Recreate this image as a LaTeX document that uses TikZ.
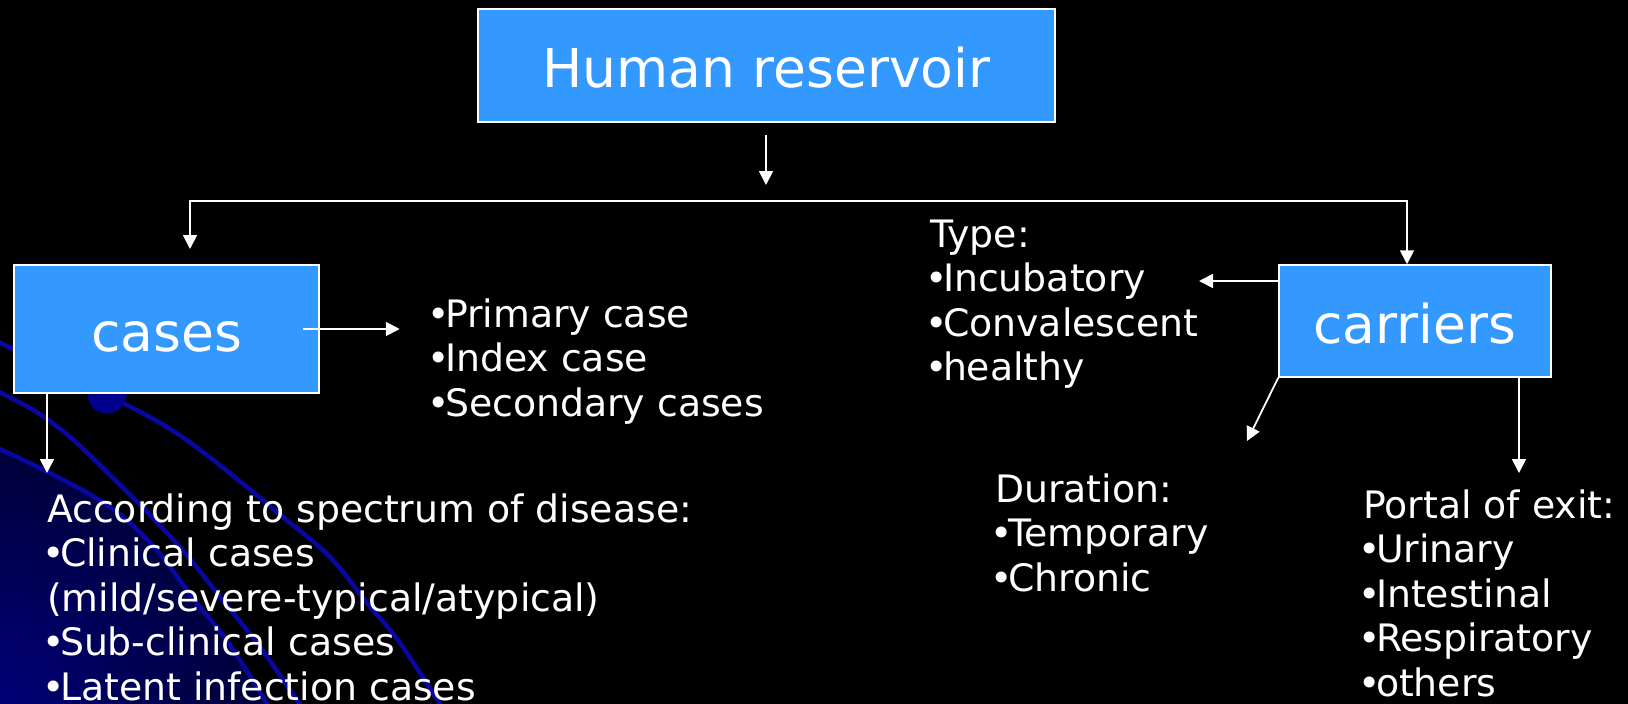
\documentclass[tikz,border=0pt]{standalone}
\usepackage{fontspec}
\setmainfont{DejaVu Sans}
\usetikzlibrary{arrows.meta}
\definecolor{boxblue}{RGB}{51,153,255}
\definecolor{arcblue}{RGB}{8,8,160}
\definecolor{dotblue}{RGB}{0,0,140}
\definecolor{cornerblue}{RGB}{0,0,118}
\newcommand{\stk}[1]{\begin{tabular}[t]{@{}l@{}}#1\end{tabular}}
\newcommand{\bul}{\kern-5pt•\kern-4.5pt}
\begin{document}
\begin{tikzpicture}[x=1pt,y=-1pt,
  box/.style={draw=white, line width=1.5pt, fill=boxblue, text=white,
    font=\fontsize{53.5}{62}\selectfont, inner sep=0pt, text height=44pt, text depth=0pt},
  conn/.style={draw=white, line width=1.8pt, -{Triangle[length=14pt,width=14pt]}},
  txt/.style={text=white, font=\fontsize{37.8}{44.5}\selectfont, anchor=base west, inner sep=0pt},
  deco/.style={draw=arcblue, line width=4.5pt}
]
\useasboundingbox (0,0) rectangle (1628,704);
% background
\fill[black] (0,0) rectangle (1628,704);
\begin{scope}
  \clip (0,0) rectangle (1628,704);
  \begin{scope}
    \clip plot[smooth, tension=0.6] coordinates {(-5,447) (50,473) (110,507) (155,548) (192,597) (230,645) (272,712)} -- (-5,712) -- cycle;
    \shade[inner color=cornerblue, outer color=black] (0,704) circle (500);
  \end{scope}
  \draw[deco] plot[smooth, tension=0.6] coordinates {(-5,340) (50,368) (107,395) (167,427) (217,463) (283,517) (330,557) (367,603) (400,643) (445,712)};
  \draw[deco] plot[smooth, tension=0.6] coordinates {(-5,390) (35,411) (70,437) (110,475) (148,513) (185,553) (220,597) (260,647) (305,712)};
  \draw[deco] plot[smooth, tension=0.6] coordinates {(-5,447) (50,473) (110,507) (155,548) (192,597) (230,645) (272,712)};
  \fill[dotblue] (107,394) circle (19.5);
\end{scope}

% boxes
\node[box, minimum width=577pt, minimum height=113pt] (hr) at (766.5,65.5) {Human reservoir};
\node[box, minimum width=305pt, minimum height=128pt] (cases) at (166.5,329) {cases};
\node[box, minimum width=272pt, minimum height=112pt] (carr) at (1415,321) {carriers};

% text blocks
\node[txt] (caselist) at (432,327) {\stk{\bul Primary case\\\bul Index case\\\bul Secondary cases}};
\node[txt] (spec) at (47,522) {\stk{According to spectrum of disease:\\\bul Clinical cases\\(mild/severe-typical/atypical)\\\bul Sub-clinical cases\\\bul Latent infection cases}};
\node[txt] (type) at (930,247) {\stk{Type:\\\bul Incubatory\\\bul Convalescent\\\bul healthy}};
\node[txt] (dur) at (995,502) {\stk{Duration:\\\bul Temporary\\\bul Chronic}};
\node[txt] (portal) at (1363,518) {\stk{Portal of exit:\\\bul Urinary\\\bul Intestinal\\\bul Respiratory\\\bul others}};

% connectors
\coordinate (t1) at (766,135);
\coordinate (t2) at (766,185);
\draw[conn] (t1) -- (t2);
\coordinate (bl) at (190,201);
\coordinate (br) at (1407,201);
\coordinate (lt) at (190,249);
\draw[white, line width=1.8pt, line join=miter, {Triangle[length=14pt,width=14pt]}-{Triangle[length=14pt,width=14pt]}]
  (lt) -- (bl) -- (br) -- (br |- carr.north);
\draw[conn] ([xshift=-17pt]cases.east) -- ([xshift=80pt]cases.east);
\coordinate (cd) at (47,473);
\draw[conn] (cd |- cases.south) -- (cd);
\coordinate (tl) at (1199,281);
\draw[conn] (tl -| carr.west) -- (tl);
\coordinate (dd) at (1247,441);
\draw[conn] (carr.south west) -- (dd);
\coordinate (pd) at (1519,473);
\draw[conn] (pd |- carr.south) -- (pd);
\end{tikzpicture}
\end{document}
